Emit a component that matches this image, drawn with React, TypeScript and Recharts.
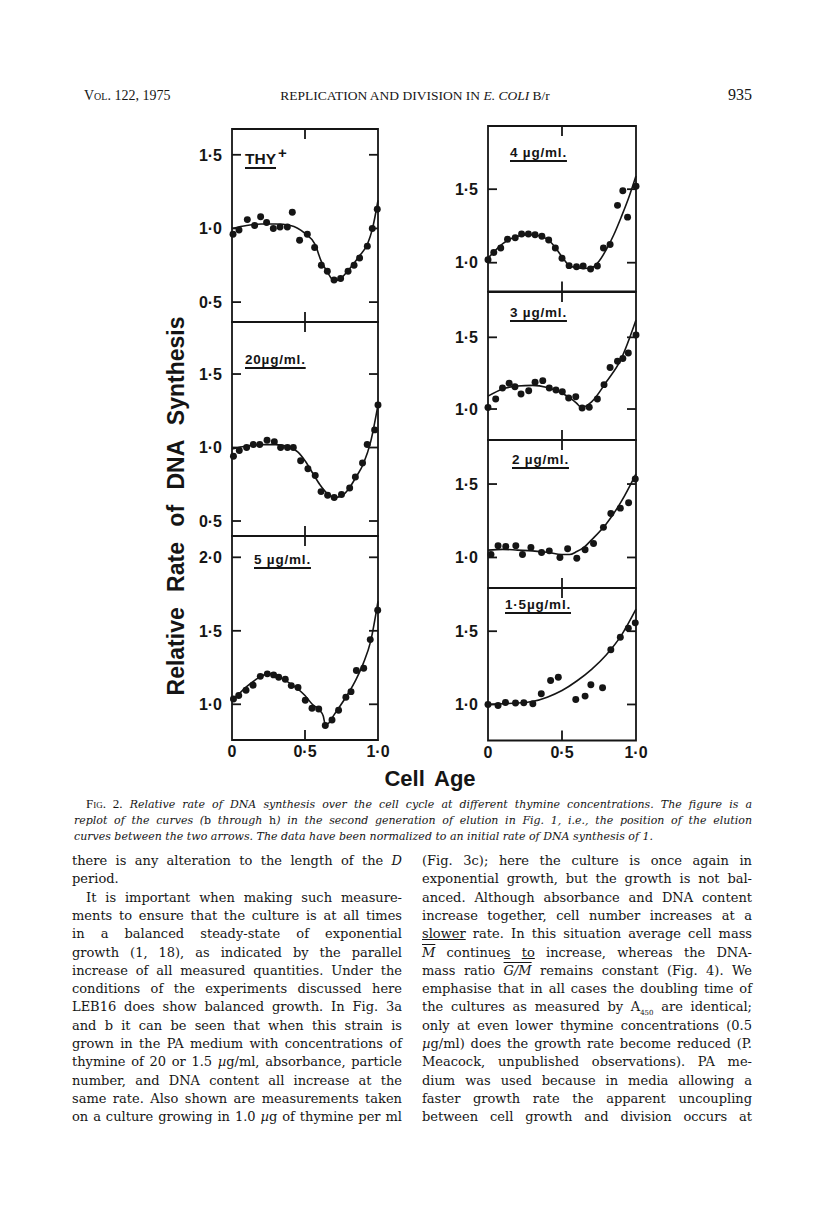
import React from "react";
import { ComposedChart, Line, Scatter, XAxis, YAxis, ZAxis, ReferenceArea } from "recharts";

// cell age (x) and relative rate of DNA synthesis (y)
const thyAge = [0.007, 0.048, 0.105, 0.155, 0.196, 0.237, 0.283, 0.329, 0.379, 0.413, 0.463, 0.516, 0.566, 0.612, 0.653, 0.699, 0.744, 0.795, 0.836, 0.874, 0.927, 0.961, 0.995];
const thyRate = [0.96, 0.99, 1.06, 1.02, 1.08, 1.04, 1.0, 1.01, 1.01, 1.11, 0.92, 0.96, 0.87, 0.75, 0.71, 0.65, 0.66, 0.71, 0.75, 0.8, 0.88, 1.0, 1.13];
const thyFitAge = [0, 0.1, 0.2, 0.3, 0.4, 0.5, 0.57, 0.61, 0.65, 0.7, 0.75, 0.8, 0.87, 0.93, 0.96, 1.0];
const thyFit = [1.0, 1.02, 1.03, 1.03, 1.02, 0.966, 0.89, 0.78, 0.71, 0.645, 0.665, 0.72, 0.81, 0.9, 0.99, 1.19];

const t20Age = [0.01, 0.05, 0.1, 0.146, 0.19, 0.24, 0.29, 0.333, 0.38, 0.42, 0.47, 0.52, 0.57, 0.61, 0.655, 0.7, 0.75, 0.806, 0.845, 0.894, 0.926, 0.977, 1.0];
const t20Rate = [0.94, 0.98, 1.0, 1.02, 1.02, 1.05, 1.04, 1.0, 1.0, 1.0, 0.91, 0.855, 0.81, 0.7, 0.675, 0.66, 0.68, 0.725, 0.8, 0.895, 1.02, 1.12, 1.29];
const t20FitAge = [0, 0.1, 0.2, 0.3, 0.4, 0.45, 0.5, 0.55, 0.6, 0.65, 0.7, 0.75, 0.8, 0.85, 0.9, 0.95, 1.0];
const t20Fit = [0.99, 1.01, 1.02, 1.02, 1.0, 0.97, 0.91, 0.83, 0.75, 0.69, 0.66, 0.67, 0.72, 0.8, 0.89, 1.04, 1.29];

const t5Age = [0.01, 0.046, 0.096, 0.144, 0.194, 0.242, 0.285, 0.32, 0.365, 0.406, 0.452, 0.502, 0.548, 0.594, 0.639, 0.685, 0.73, 0.78, 0.815, 0.852, 0.902, 0.947, 0.998];
const t5Rate = [1.036, 1.06, 1.095, 1.13, 1.19, 1.207, 1.2, 1.184, 1.17, 1.127, 1.114, 1.027, 0.973, 0.968, 0.855, 0.893, 0.96, 1.048, 1.086, 1.23, 1.245, 1.44, 1.64];
const t5FitAge = [0, 0.1, 0.2, 0.25, 0.3, 0.4, 0.5, 0.55, 0.6, 0.625, 0.64, 0.66, 0.7, 0.8, 0.85, 0.9, 0.95, 1.0];
const t5Fit = [1.02, 1.12, 1.19, 1.21, 1.195, 1.14, 1.06, 1.0, 0.96, 0.92, 0.86, 0.87, 0.93, 1.08, 1.17, 1.28, 1.43, 1.7];

const t4Age = [0, 0.039, 0.086, 0.132, 0.184, 0.227, 0.273, 0.318, 0.364, 0.41, 0.455, 0.5, 0.548, 0.598, 0.643, 0.693, 0.739, 0.78, 0.825, 0.875, 0.911, 0.943, 1.0];
const t4Rate = [1.02, 1.07, 1.1, 1.16, 1.17, 1.195, 1.195, 1.19, 1.18, 1.155, 1.1, 1.03, 0.98, 0.973, 0.977, 0.957, 0.977, 1.1, 1.124, 1.39, 1.49, 1.31, 1.52];
const t4FitAge = [0, 0.1, 0.2, 0.3, 0.4, 0.45, 0.5, 0.55, 0.6, 0.65, 0.7, 0.75, 0.8, 0.85, 0.9, 0.95, 1.0];
const t4Fit = [1.03, 1.13, 1.18, 1.19, 1.16, 1.11, 1.04, 0.98, 0.965, 0.96, 0.965, 1.01, 1.09, 1.19, 1.31, 1.44, 1.59];

const t3Age = [0, 0.052, 0.098, 0.143, 0.182, 0.223, 0.275, 0.318, 0.37, 0.414, 0.459, 0.502, 0.545, 0.593, 0.636, 0.684, 0.739, 0.784, 0.825, 0.875, 0.911, 0.948, 1.0];
const t3Rate = [1.01, 1.07, 1.147, 1.18, 1.156, 1.105, 1.128, 1.186, 1.198, 1.147, 1.133, 1.12, 1.077, 1.086, 1.007, 1.012, 1.07, 1.17, 1.29, 1.333, 1.353, 1.39, 1.516];
const t3FitAge = [0, 0.1, 0.2, 0.3, 0.4, 0.5, 0.55, 0.6, 0.63, 0.66, 0.7, 0.8, 0.9, 1.0];
const t3Fit = [1.09, 1.14, 1.16, 1.165, 1.15, 1.11, 1.08, 1.04, 1.01, 1.02, 1.05, 1.19, 1.35, 1.62];

const t2Age = [0.02, 0.068, 0.12, 0.188, 0.233, 0.29, 0.362, 0.414, 0.486, 0.538, 0.6, 0.656, 0.713, 0.78, 0.83, 0.894, 0.95, 0.995];
const t2Rate = [1.02, 1.08, 1.075, 1.08, 1.02, 1.068, 1.034, 1.045, 1.0, 1.06, 0.995, 1.052, 1.095, 1.205, 1.3, 1.336, 1.373, 1.534];
const t2FitAge = [0, 0.1, 0.2, 0.3, 0.4, 0.5, 0.55, 0.6, 0.65, 0.7, 0.8, 0.9, 1.0];
const t2Fit = [1.05, 1.055, 1.05, 1.045, 1.035, 1.02, 1.02, 1.04, 1.07, 1.12, 1.23, 1.38, 1.57];

const t15Age = [0, 0.068, 0.118, 0.186, 0.242, 0.303, 0.36, 0.423, 0.475, 0.593, 0.656, 0.695, 0.774, 0.83, 0.894, 0.948, 0.995];
const t15Rate = [1.0, 0.993, 1.014, 1.01, 1.011, 1.005, 1.073, 1.164, 1.186, 1.034, 1.057, 1.134, 1.114, 1.373, 1.459, 1.52, 1.557];
const t15FitAge = [0, 0.1, 0.2, 0.3, 0.4, 0.5, 0.6, 0.7, 0.8, 0.9, 1.0];
const t15Fit = [1.0, 1.005, 1.01, 1.02, 1.05, 1.095, 1.16, 1.24, 1.34, 1.47, 1.65];

const ageTicks = [0, 0.5, 1];

type Pt = { x: number; y: number };
const zip = (xs: number[], ys: number[]): Pt[] => xs.map((x, i) => ({ x, y: ys[i] }));

const ink = "#151515";
const sans = "'Liberation Sans', Arial, sans-serif";
const serif = "'DejaVu Serif', serif";
const headSerif = "'Liberation Serif', 'Times New Roman', serif";
const AXIS_W = 60;
const PAD = 6;
const RPAD = 18;
const TICK = 9;
const SW = 1.8;

const fmt = (v: number) => (v === 0 ? "0" : v.toFixed(1).replace(".", "\u00b7"));
const labelFont = { fill: ink, fontSize: 16, fontWeight: 700, fontFamily: sans };

type PanelSpec = {
  left: number;
  top: number;
  width: number;
  height: number;
  domain: [number, number];
  ticks: number[];
  points: Pt[];
  fit: Pt[];
  bottom?: boolean;
};

// y tick: label outside, short inward marks on both the left and right edge
const yTick = (w: number) => (props: any) => {
  const { x, y, payload } = props;
  return (
    <g>
      <line x1={x} x2={x + TICK} y1={y} y2={y} stroke={ink} strokeWidth={SW} />
      <line x1={x + w - TICK} x2={x + w} y1={y} y2={y} stroke={ink} strokeWidth={SW} />
      <text x={x - 10} y={y} dy="0.36em" textAnchor="end" {...labelFont}>
        {fmt(payload.value)}
      </text>
    </g>
  );
};

// x tick: inward marks at 0.5 on bottom and top edge, labels on the lowest panels only
const xTick = (h: number, showLabel: boolean) => (props: any) => {
  const { x, y, payload } = props;
  const v = payload.value as number;
  return (
    <g>
      {v === 0.5 && (
        <>
          <line x1={x} x2={x} y1={y} y2={y - TICK - 1} stroke={ink} strokeWidth={SW} />
          <line x1={x} x2={x} y1={y - h} y2={y - h + TICK + 1} stroke={ink} strokeWidth={SW} />
        </>
      )}
      {showLabel && (
        <text x={x} y={y + 6} dy="0.71em" textAnchor="middle" {...labelFont}>
          {fmt(v)}
        </text>
      )}
    </g>
  );
};

function Panel({ left, top, width, height, domain, ticks, points, fit, bottom }: PanelSpec) {
  const xh = bottom ? 30 : 2;
  return (
    <div style={{ position: "absolute", left: left - AXIS_W, top: top - PAD }}>
      <ComposedChart
        width={AXIS_W + width + RPAD}
        height={PAD + height + xh + PAD}
        margin={{ top: PAD, right: RPAD, bottom: PAD, left: 0 }}
      >
        <XAxis
          dataKey="x"
          type="number"
          domain={[0, 1]}
          ticks={bottom ? ageTicks : [0.5]}
          tickSize={0}
          tickMargin={0}
          height={xh}
          axisLine={false}
          tickLine={false}
          tick={xTick(height, !!bottom)}
        />
        <YAxis
          type="number"
          domain={domain}
          ticks={ticks}
          tickSize={0}
          tickMargin={0}
          width={AXIS_W}
          axisLine={false}
          tickLine={false}
          tick={yTick(width)}
        />
        <ZAxis range={[38, 38]} />
        <ReferenceArea
          x1={0}
          x2={1}
          y1={domain[0]}
          y2={domain[1]}
          fill="none"
          fillOpacity={0}
          stroke={ink}
          strokeWidth={SW}
          ifOverflow="visible"
        />
        <Line
          data={fit}
          dataKey="y"
          type="monotone"
          dot={false}
          stroke={ink}
          strokeWidth={1.6}
          isAnimationActive={false}
        />
        <Scatter data={points} dataKey="y" fill={ink} isAnimationActive={false} />
      </ComposedChart>
    </div>
  );
}

const panels: (PanelSpec & { id: string })[] = [
  { id: "thy", left: 232, top: 129, width: 146, height: 193, domain: [0.365, 1.675], ticks: [0.5, 1, 1.5], points: zip(thyAge, thyRate), fit: zip(thyFitAge, thyFit) },
  { id: "t20", left: 232, top: 322, width: 146, height: 214, domain: [0.398, 1.854], ticks: [0.5, 1, 1.5], points: zip(t20Age, t20Rate), fit: zip(t20FitAge, t20Fit) },
  { id: "t5", left: 232, top: 536, width: 146, height: 204, domain: [0.757, 2.145], ticks: [1, 1.5, 2], points: zip(t5Age, t5Rate), fit: zip(t5FitAge, t5Fit), bottom: true },
  { id: "t4", left: 488, top: 126, width: 148, height: 165.5, domain: [0.804, 1.93], ticks: [1, 1.5], points: zip(t4Age, t4Rate), fit: zip(t4FitAge, t4Fit) },
  { id: "t3", left: 488, top: 291.5, width: 148, height: 148, domain: [0.784, 1.816], ticks: [1, 1.5], points: zip(t3Age, t3Rate), fit: zip(t3FitAge, t3Fit) },
  { id: "t2", left: 488, top: 439.5, width: 148, height: 148, domain: [0.792, 1.8], ticks: [1, 1.5], points: zip(t2Age, t2Rate), fit: zip(t2FitAge, t2Fit) },
  { id: "t15", left: 488, top: 587.5, width: 148, height: 152.5, domain: [0.754, 1.795], ticks: [1, 1.5], points: zip(t15Age, t15Rate), fit: zip(t15FitAge, t15Fit), bottom: true },
];

// panel captions (concentration of thymine)
const panelLabels: { text: string; sup?: string; left: number; top: number; size: number }[] = [
  { text: "THY", sup: "+", left: 245, top: 144, size: 15.5 },
  { text: "20\u00b5g/ml.", left: 245, top: 351, size: 13.5 },
  { text: "5 \u00b5g/ml.", left: 254, top: 551, size: 13.5 },
  { text: "4 \u00b5g/ml.", left: 510, top: 144, size: 13.5 },
  { text: "3 \u00b5g/ml.", left: 510, top: 304, size: 13.5 },
  { text: "2 \u00b5g/ml.", left: 512, top: 451, size: 13.5 },
  { text: "1\u00b75\u00b5g/ml.", left: 505, top: 596, size: 13.5 },
];

const abs = (left: number, top: number): React.CSSProperties => ({ position: "absolute", left, top });

const mu = <i>{"\u00b5"}</i>;
const leftCol: React.ReactNode[] = [
  <>there is any alteration to the length of the <i>D</i></>,
  "period.",
  "It is important when making such measure-",
  "ments to ensure that the culture is at all times",
  "in a balanced steady-state of exponential",
  "growth (1, 18), as indicated by the parallel",
  "increase of all measured quantities. Under the",
  "conditions of the experiments discussed here",
  "LEB16 does show balanced growth. In Fig. 3a",
  "and b it can be seen that when this strain is",
  "grown in the PA medium with concentrations of",
  <>thymine of 20 or 1.5 {mu}g/ml, absorbance, particle</>,
  "number, and DNA content all increase at the",
  "same rate. Also shown are measurements taken",
  <>on a culture growing in 1.0 {mu}g of thymine per ml</>,
];
const leftParaEnd = 1;
const leftIndent = 2;

const bar: React.CSSProperties = { textDecoration: "overline" };
const rightCol: React.ReactNode[] = [
  "(Fig. 3c); here the culture is once again in",
  "exponential growth, but the growth is not bal-",
  "anced. Although absorbance and DNA content",
  "increase together, cell number increases at a",
  <><u>slower</u> rate. In this situation average cell mass</>,
  <><i style={bar}>M</i> continue<u>s</u> <u>to</u> increase, whereas the DNA-</>,
  <>mass ratio <i style={bar}>G/M</i> remains constant (Fig. 4). We</>,
  "emphasise that in all cases the doubling time of",
  <>the cultures as measured by A<sub style={{ fontSize: 7 }}>450</sub> are identical;</>,
  "only at even lower thymine concentrations (0.5",
  <>{mu}g/ml) does the growth rate become reduced (P.</>,
  "Meacock, unpublished observations). PA me-",
  "dium was used because in media allowing a",
  "faster growth rate the apparent uncoupling",
  "between cell growth and division occurs at",
];

const up: React.CSSProperties = { fontStyle: "normal" };
const captionLines: React.ReactNode[] = [
  <><span style={{ ...up, fontVariant: "small-caps", fontFamily: headSerif, fontSize: 13 }}>Fig. 2.</span> Relative rate of DNA synthesis over the cell cycle at different thymine concentrations. The figure is a</>,
  <>replot of the curves (<span style={up}>b</span> through <span style={up}>h</span>) in the second generation of elution in Fig. 1, i.e., the position of the elution</>,
  "curves between the two arrows. The data have been normalized to an initial rate of DNA synthesis of 1.",
];

const BODY_TOP = 853;
const BODY_STEP = 18.3;

function TextLine({ children, left, top, width, justify, size, italic, indent }: {
  children: React.ReactNode; left: number; top: number; width: number; justify: boolean; size: number; italic?: boolean; indent?: number;
}) {
  return (
    <div
      style={{
        ...abs(left + (indent || 0), top),
        width: width - (indent || 0),
        fontFamily: serif,
        fontSize: size,
        lineHeight: "16px",
        fontStyle: italic ? "italic" : "normal",
        textAlign: justify ? "justify" : "left",
        textAlignLast: justify ? "justify" : "left",
        color: ink,
        whiteSpace: "nowrap",
      }}
    >
      {children}
    </div>
  );
}

export default function App() {
  return (
    <div style={{ position: "absolute", left: 0, top: 0, width: 816, height: 1231, background: "#fff", overflow: "hidden" }}>
      {/* running head */}
      <div style={{ ...abs(84, 88), fontFamily: headSerif, fontSize: 14, color: ink, fontVariant: "small-caps" }}>Vol. 122, 1975</div>
      <div style={{ ...abs(235, 88), width: 360, textAlign: "center", fontFamily: headSerif, fontSize: 13.5, color: ink }}>
        REPLICATION AND DIVISION IN <i>E. COLI</i> B/r
      </div>
      <div style={{ ...abs(700, 86), width: 52, textAlign: "right", fontFamily: headSerif, fontSize: 16, color: ink }}>935</div>

      {panels.map(({ id, ...p }) => (
        <Panel key={id} {...p} />
      ))}

      {panelLabels.map((l, i) => (
        <div
          key={i}
          style={{
            ...abs(l.left, l.top),
            fontFamily: sans,
            fontWeight: 700,
            fontSize: l.size,
            color: ink,
            lineHeight: "18px",
            whiteSpace: "nowrap",
          }}
        >
          <span
            style={{
              textDecoration: "underline",
              textDecorationThickness: 1.5,
              textUnderlineOffset: 3,
              letterSpacing: l.sup ? 0 : 0.8,
            }}
          >
            {l.text}
          </span>
          {l.sup && <sup style={{ fontSize: 15, marginLeft: 2 }}>{l.sup}</sup>}
        </div>
      ))}

      {/* axis titles */}
      <div
        style={{
          ...abs(176, 506),
          transform: "translate(-50%, -50%) rotate(-90deg)",
          fontFamily: sans,
          fontWeight: 700,
          fontSize: 23,
          wordSpacing: 9,
          color: ink,
          whiteSpace: "nowrap",
        }}
      >
        Relative Rate of DNA Synthesis
      </div>
      <div style={{ ...abs(330, 766), width: 200, textAlign: "center", fontFamily: sans, fontWeight: 700, fontSize: 22, wordSpacing: 4, color: ink }}>
        Cell Age
      </div>

      {captionLines.map((c, i) => (
        <TextLine key={i} left={74} top={796 + i * 16.5} width={678} justify={i < 2} size={11} italic indent={i === 0 ? 12 : 0}>
          {c}
        </TextLine>
      ))}

      {leftCol.map((c, i) => (
        <TextLine
          key={i}
          left={72}
          top={BODY_TOP + i * BODY_STEP}
          width={330}
          justify={i !== leftParaEnd}
          size={13}
          indent={i === leftIndent ? 14 : 0}
        >
          {c}
        </TextLine>
      ))}
      {rightCol.map((c, i) => (
        <TextLine key={i} left={422} top={BODY_TOP + i * BODY_STEP} width={330} justify size={13}>
          {c}
        </TextLine>
      ))}
    </div>
  );
}
